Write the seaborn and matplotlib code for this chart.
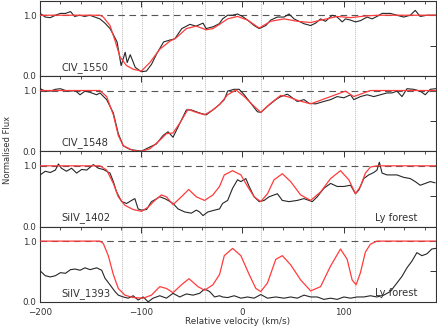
#!/usr/bin/env python3
"""
Velocity plot of CIV and SiIV absorption with the Voigt profile fit.
"""
import matplotlib
matplotlib.use('Agg')
import matplotlib.pyplot as plt
from matplotlib.ticker import MultipleLocator
import seaborn as sns

# ---- data ----
ions = ['CIV_1550', 'CIV_1548', 'SiIV_1402', 'SiIV_1393']
forest_flags = [False, False, True, True]
components = [-119, -99, -69, -37, 18, 68, 111]

civ1550_obs_v = [-200, -195, -190, -185, -180, -175, -170, -166, -161, -156, -151, -146, -141,
                 -136, -131, -128, -124, -120, -116, -114, -111, -106, -100, -95, -90, -85,
                 -78, -72, -67, -60, -52, -46, -39, -36, -29, -23, -19.7, -14.7, -9.8, -4.9,
                 0, 5, 11.5, 16.5, 23, 27.9, 34.5, 41.1, 46, 50.9, 55.9, 60.8, 67.4, 72.3,
                 77.2, 82.1, 88.7, 93.6, 98.6, 101.8, 106.8, 111.7, 116.6, 123.2, 128.1, 133,
                 138, 146.2, 152.7, 159.3, 165.9, 170.8, 175.7, 182.3, 191]
civ1550_obs_f = [1.03, 0.97, 0.96, 1.00, 1.03, 1.03, 1.06, 0.98, 1.00, 0.98, 1.00, 0.97, 0.94,
                 0.87, 0.78, 0.69, 0.56, 0.17, 0.39, 0.22, 0.35, 0.14, 0.07, 0.08, 0.19, 0.36,
                 0.56, 0.59, 0.61, 0.78, 0.85, 0.82, 0.87, 0.78, 0.81, 0.86, 0.94, 1.00, 1.00, 1.02,
                 0.98, 0.92, 0.83, 0.78, 0.83, 0.92, 0.97, 0.97, 1.02, 0.94, 0.90, 0.86, 0.83, 0.87,
                 0.94, 0.90, 1.00, 0.97, 0.89, 0.94, 0.92, 0.89, 0.91, 0.97, 0.94, 0.98,
                 1.03, 1.03, 1.00, 0.97, 1.00, 1.08, 0.98, 1.00, 1.00]
civ1550_fit_v = [-200, -141, -137.6, -131, -126, -121, -114.6, -108, -100, -91.6, -81.8, -72,
                 -65.4, -55.5, -45.7, -35.8, -29.3, -22.7, -14.7, -4.9, 5, 16.5, 27.9, 41.1,
                 54.2, 67.4, 80.5, 93.6, 106.8, 123.2, 135, 191]
civ1550_fit_f = [1.00, 1.00, 0.97, 0.83, 0.58, 0.31, 0.17, 0.11, 0.08, 0.22, 0.44, 0.57,
                 0.63, 0.78, 0.82, 0.76, 0.78, 0.85, 0.94, 0.98, 0.92, 0.79, 0.90, 0.94,
                 0.90, 0.88, 0.93, 0.98, 0.96, 0.99, 1.00, 1.00]

civ1548_obs_v = [-200, -195, -190, -185, -180, -175, -170, -165.5, -160.6, -155.7, -150.7, -144.2,
                 -140.9, -134.3, -127.7, -122.8, -117.9, -111.3, -100, -91.6, -85.1, -78.5,
                 -73.6, -68.7, -63.7, -55.5, -50.6, -42.4, -35.8, -29.3, -22.7, -18, -14.7,
                 -8.2, -3.3, 1.7, 8.2, 14.8, 18.1, 24.7, 32.9, 37.8, 44.4, 49.3, 54.2, 60.8,
                 65.7, 72.3, 80.5, 87.1, 93.6, 100.2, 106.8, 110, 116.6, 123.2, 129.8, 136.3,
                 142.9, 147.8, 152.7, 157.7, 162.6, 169.2, 175.7, 180.7, 185.6, 191]
civ1548_obs_f = [1.03, 0.99, 0.99, 1.02, 1.03, 1.00, 0.99, 1.00, 0.93, 0.99, 0.97, 0.93,
                 0.96, 0.85, 0.63, 0.29, 0.09, 0.03, 0.00, 0.07, 0.12, 0.26,
                 0.32, 0.23, 0.40, 0.68, 0.68, 0.63, 0.60, 0.68, 0.77, 0.85, 0.99,
                 1.02, 1.02, 0.93, 0.79, 0.65, 0.64, 0.74, 0.85, 0.90, 0.94, 0.88, 0.82, 0.85,
                 0.79, 0.78, 0.82, 0.85, 0.90, 0.88, 0.93, 0.85, 0.90, 0.93, 0.90, 0.93,
                 0.96, 0.96, 0.99, 0.90, 1.03, 1.02, 0.99, 0.93, 1.02, 1.03]
civ1548_fit_v = [-200, -141, -134.3, -127.7, -122.8, -117.9, -108, -100, -91.6, -81.8, -75.2,
                 -68.7, -62.1, -53.9, -45.7, -37.5, -29.3, -22.7, -14.7, -6.5, 1.7, 11.5,
                 18.1, 27.9, 37.8, 44.4, 54.2, 67.4, 80.5, 93.6, 101.8, 110, 119.9, 126.5, 191]
civ1548_fit_f = [1.00, 1.00, 0.90, 0.60, 0.26, 0.09, 0.01, 0.00, 0.04, 0.18, 0.29,
                 0.30, 0.46, 0.69, 0.64, 0.60, 0.68, 0.77, 0.93, 1.01, 0.90, 0.74,
                 0.64, 0.79, 0.92, 0.90, 0.84, 0.78, 0.86, 0.94, 0.99, 0.90, 0.96, 1.00, 1.00]

siiv1402_obs_v = [-200, -195, -190, -185, -182, -179, -174, -169, -164, -159, -154, -147.5,
                  -142.5, -137.6, -131, -127.7, -124.5, -119.5, -114.6, -109.7, -106.4, -103.2,
                  -99.9, -94.9, -90, -86.7, -81.8, -76.9, -73.6, -68.7, -63.7, -57.1, -50.6,
                  -45.7, -42.4, -39.1, -34.2, -27.6, -22.7, -19.7, -14.7, -9.8, -4.9, -1.6,
                  3.3, 6.6, 11.5, 16.5, 21.4, 26.3, 31.2, 34.5, 39.4, 46, 54.2, 60.8, 69,
                  73.9, 80.5, 87.1, 93.6, 100.2, 106.8, 111.7, 115, 119.9, 124.8, 129.8, 133,
                  135.3, 138, 142.9, 152.7, 159.3, 165.9, 170.8, 175.7, 180.7, 185.6, 190.5]
siiv1402_obs_f = [0.85, 0.91, 0.89, 0.93, 1.03, 0.96, 0.91, 0.96, 0.88, 0.94, 0.93, 1.02,
                  0.96, 0.94, 0.88, 0.74, 0.57, 0.41, 0.38, 0.43, 0.46, 0.29,
                  0.27, 0.28, 0.41, 0.44, 0.49, 0.46, 0.43, 0.38, 0.29, 0.24, 0.22,
                  0.27, 0.24, 0.18, 0.24, 0.27, 0.29, 0.38, 0.43, 0.63, 0.77, 0.74,
                  0.79, 0.66, 0.49, 0.41, 0.43, 0.49, 0.52, 0.54, 0.43, 0.41, 0.43, 0.46, 0.41,
                  0.49, 0.63, 0.71, 0.66, 0.66, 0.68, 0.54, 0.60, 0.79, 0.85, 0.89, 0.93,
                  1.06, 0.88, 0.85, 0.85, 0.81, 0.79, 0.74, 0.68, 0.71, 0.74, 0.72]
siiv1402_fit_v = [-200, -141, -134.3, -127.7, -122.8, -116.3, -108.1, -99.9, -93.3, -86.7,
                  -80.2, -75.2, -68.7, -60.4, -53.2, -45.7, -37.5, -29.3, -22.7, -18, -9.8,
                  -1.6, 5, 11.5, 18.1, 24.7, 31.2, 39.4, 47.6, 57.5, 67.4, 77.2, 87.1, 96.9,
                  105.1, 111.7, 116.6, 121.5, 126.5, 133, 191]
siiv1402_fit_f = [1.00, 1.00, 0.93, 0.71, 0.49, 0.35, 0.28, 0.25, 0.32, 0.43,
                  0.52, 0.49, 0.36, 0.49, 0.61, 0.49, 0.43, 0.52, 0.66, 0.85, 0.92,
                  0.85, 0.66, 0.49, 0.41, 0.54, 0.77, 0.87, 0.74, 0.52, 0.43, 0.57, 0.79, 0.92,
                  0.77, 0.54, 0.66, 0.88, 0.98, 1.00, 1.00]

siiv1393_obs_v = [-200, -195, -190, -185, -180, -175, -170, -165.5, -160.6, -155.7, -150.7,
                  -144.2, -139.2, -136, -131, -126.1, -122.8, -117.9, -113, -108.1, -103.2,
                  -98.2, -93.3, -88.4, -81.8, -75.2, -68.7, -62.1, -55.5, -48.9, -42.4, -37.5,
                  -32.5, -27.6, -22.7, -19.7, -14.7, -8.2, -1.6, 5, 11.5, 18.1, 24.7, 32.9,
                  41.1, 47.6, 54.2, 60.8, 67.4, 73.9, 80.5, 87.1, 93.6, 100.2, 106.8, 113.3,
                  119.9, 126.5, 133, 139.6, 146.2, 152.7, 157.7, 162.6, 167.5, 172.4, 177.4,
                  182.3, 187.2, 191]
siiv1393_obs_f = [0.51, 0.43, 0.41, 0.43, 0.48, 0.47, 0.53, 0.54, 0.52, 0.56, 0.53,
                  0.56, 0.52, 0.39, 0.28, 0.17, 0.11, 0.08, 0.06, 0.10, 0.03,
                  0.08, 0.00, 0.06, 0.10, 0.06, 0.14, 0.08, 0.13, 0.11, 0.14, 0.21,
                  0.17, 0.08, 0.10, 0.08, 0.07, 0.10, 0.06, 0.08, 0.06, 0.12, 0.06, 0.08,
                  0.06, 0.08, 0.06, 0.11, 0.08, 0.08, 0.04, 0.06, 0.04, 0.08, 0.06, 0.08,
                  0.08, 0.10, 0.08, 0.11, 0.17, 0.31, 0.42, 0.56, 0.67, 0.81, 0.76,
                  0.79, 0.87, 0.88]
siiv1393_fit_v = [-200, -141, -137.6, -132.7, -127.7, -122.8, -116.3, -108.1, -98.2, -90,
                  -81.8, -75.2, -68.7, -60.4, -52.9, -44, -37.5, -29.3, -22.7, -18, -9.8,
                  -1.6, 6.6, 13.2, 18.1, 24.7, 32.9, 39.4, 47.6, 57.5, 67.4, 77.2, 87.1, 96.9,
                  103.5, 108.4, 112.3, 116.6, 121.5, 126.5, 133, 191]
siiv1393_fit_f = [1.00, 1.00, 0.96, 0.76, 0.45, 0.22, 0.11, 0.07, 0.06, 0.11,
                  0.25, 0.22, 0.15, 0.28, 0.38, 0.25, 0.19, 0.28, 0.45, 0.76, 0.88,
                  0.76, 0.45, 0.22, 0.17, 0.31, 0.70, 0.76, 0.61, 0.36, 0.18, 0.25, 0.59, 0.87,
                  0.70, 0.36, 0.28, 0.48, 0.82, 0.95, 1.00, 1.00]

obs_v = [civ1550_obs_v, civ1548_obs_v, siiv1402_obs_v, siiv1393_obs_v]
obs_f = [civ1550_obs_f, civ1548_obs_f, siiv1402_obs_f, siiv1393_obs_f]
fit_v = [civ1550_fit_v, civ1548_fit_v, siiv1402_fit_v, siiv1393_fit_v]
fit_f = [civ1550_fit_f, civ1548_fit_f, siiv1402_fit_f, siiv1393_fit_f]

sns.set_style('white')
plt.rcParams['font.family'] = ['DejaVu Sans']

fig, axes = plt.subplots(4, 1, figsize=(4.37, 3.27), dpi=100, sharex=True)
fig.subplots_adjust(left=0.092, right=0.997, top=0.998, bottom=0.077, hspace=0)

for i, ax in enumerate(axes):
    ax.axhline(1.0, color='#555555', lw=0.8, ls=(0, (6, 4)), zorder=1)
    for c in components:
        ax.axvline(c, color='#888888', lw=0.6, ls=(0, (0.8, 1.6)), zorder=1)
    sns.lineplot(x=obs_v[i], y=obs_f[i], ax=ax, color='#262626', lw=0.8,
                 estimator=None, sort=False, zorder=3)
    sns.lineplot(x=fit_v[i], y=fit_f[i], ax=ax, color='#ff3b3b', lw=0.9,
                 estimator=None, sort=False, zorder=4)

    ax.set_xlim(-200, 191)
    ax.set_ylim(0, 1.24)
    ax.set_yticks([0, 0.5, 1.0])
    ax.set_yticklabels(['0.0', '', '1.0'])
    ax.xaxis.set_major_locator(MultipleLocator(100))
    ax.xaxis.set_minor_locator(MultipleLocator(20))
    ax.tick_params(which='both', direction='in', top=True, right=True,
                   labelsize=6.3, colors='#333333')
    ax.tick_params(axis='y', pad=2.5)
    ax.tick_params(axis='x', pad=4.2)
    ax.tick_params(which='major', length=4, width=0.7)
    ax.tick_params(which='minor', length=2.5, width=0.6)
    for sp in ax.spines.values():
        sp.set_color('#333333')
        sp.set_linewidth(0.8)
    ax.set_ylabel('')

    ax.text(-179, 0.14, ions[i], fontsize=7.2, color='#333333', va='center', ha='left')
    if forest_flags[i]:
        ax.text(131, 0.14, 'Ly forest', fontsize=7.2, color='#333333', va='center', ha='left')

axes[-1].set_xlabel('Relative velocity (km/s)', fontsize=6.4, color='#333333', labelpad=0)
fig.text(0.018, 0.54, 'Normalised Flux', rotation=90, fontsize=6, color='#333333',
         va='center', ha='center')

plt.savefig('out.png', dpi=100)
plt.close()
